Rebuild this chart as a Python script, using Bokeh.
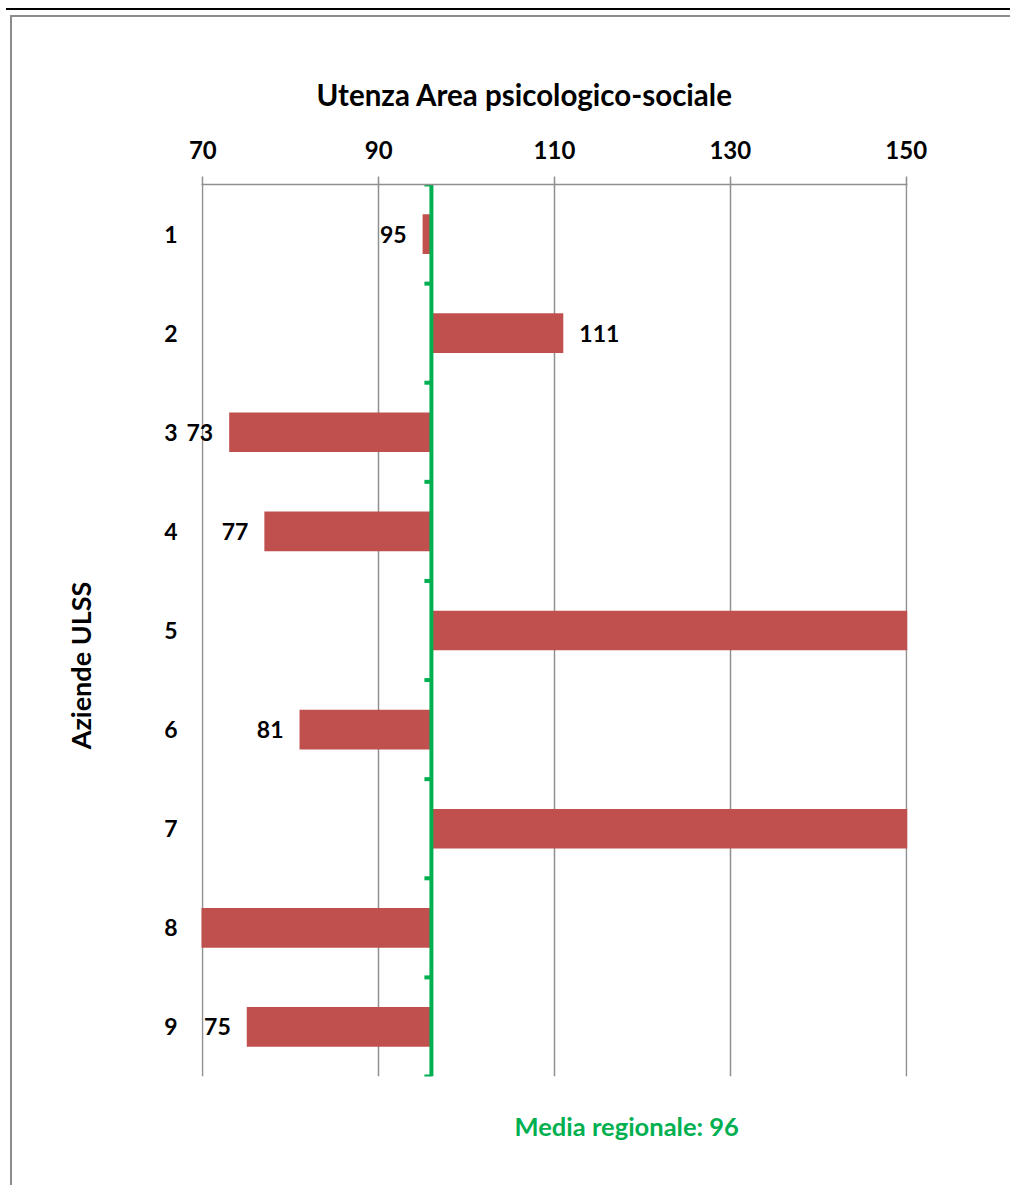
import math
from bokeh.plotting import figure
from bokeh.models import Range1d, FixedTicker, ColumnDataSource, Title
from bokeh.core.properties import value
from bokeh.embed import file_html
from bokeh.resources import INLINE

# ---- data ----
categories = ["1", "2", "3", "4", "5", "6", "7", "8", "9"]
values = [95, 111, 73, 77, 165, 81, 162, 66, 75]   # 5, 7, 8 fall outside the axis (clipped)
media = 96
x_ticks = [70, 90, 110, 130, 150]
x_min, x_max = 70, 150
y_title = "Aziende ULSS"

FONT = "Lato"
BAR = "#c0504d"
GREEN = "#00b050"
GRID = "#8f8f8f"

pos = [i + 1 for i in range(len(categories))]
bounds = [i + 0.5 for i in range(len(categories) + 1)]
pad = 0.15  # tiny padding so that the edge gridlines stay visible

p = figure(width=1010, height=1185, output_backend="svg", toolbar_location=None,
           x_range=Range1d(x_min - pad, x_max + pad),
           y_range=Range1d(len(categories) + 0.5, 0.5),
           x_axis_location="above",
           min_border_left=201, min_border_right=103, min_border_top=184, min_border_bottom=109)
p.outline_line_color = None
p.background_fill_color = "white"
p.border_fill_color = None
p.styles = {
    "background": ("linear-gradient(#000,#000) 6px 8px / 100% 2px no-repeat, "
                   "linear-gradient(#8c8c8c,#8c8c8c) 10px 15px / 100% 2px no-repeat, "
                   "linear-gradient(#8c8c8c,#8c8c8c) 10px 15px / 2px 100% no-repeat, white")
}

# title
p.title.text = "Utenza Area psicologico-sociale"
p.title.align = "left"
p.title.offset = 115
p.title.text_font = FONT
p.title.text_font_size = "29.5px"
p.title.text_font_style = "bold"
p.title.text_color = "black"
p.title.standoff = 52

# x axis (top)
xa = p.xaxis[0]
xa.ticker = FixedTicker(ticks=x_ticks)
xa.axis_line_color = GRID
xa.axis_line_width = 1.5
xa.major_tick_line_color = GRID
xa.major_tick_line_width = 1.5
xa.major_tick_out = 8
xa.major_tick_in = 0
xa.minor_tick_line_color = None
xa.major_label_text_font = FONT
xa.major_label_text_font_size = "24px"
xa.major_label_text_font_style = "bold"
xa.major_label_text_color = "black"
xa.major_label_standoff = 18

# y axis (left)
ya = p.yaxis[0]
ya.ticker = FixedTicker(ticks=pos)
ya.major_label_overrides = {float(k): c for k, c in zip(pos, categories)}
ya.axis_line_color = None
ya.major_tick_line_color = None
ya.minor_tick_line_color = None
ya.major_label_standoff = 18
ya.major_label_text_font = FONT
ya.major_label_text_font_size = "23px"
ya.major_label_text_font_style = "bold"
ya.major_label_text_color = "black"

p.xgrid.ticker = FixedTicker(ticks=x_ticks)
p.xgrid.grid_line_color = GRID
p.xgrid.grid_line_width = 1.5
p.ygrid.grid_line_color = None

# bars from the regional mean
src = ColumnDataSource(dict(y=pos, left=[media] * len(values), right=values))
p.hbar(y="y", left="left", right="right", height=0.4, source=src,
       fill_color=BAR, line_color=None)

# regional mean line with category ticks
p.segment(x0=[media], x1=[media], y0=[bounds[0]], y1=[bounds[-1]],
          line_color=GREEN, line_width=4)
p.ray(x=[media] * len(bounds), y=bounds, length=7, length_units="screen",
      angle=math.pi, line_color=GREEN, line_width=4)

# data labels (only those inside the visible axis)
lo = [(pp, v) for pp, v in zip(pos, values) if x_min <= v <= x_max and v < media]
hi = [(pp, v) for pp, v in zip(pos, values) if x_min <= v <= x_max and v >= media]
for items, align, off in ((lo, "right", -16), (hi, "left", 16)):
    if not items:
        continue
    s = ColumnDataSource(dict(y=[a for a, _ in items], x=[b for _, b in items],
                              t=[str(b) for _, b in items]))
    p.text(x="x", y="y", text="t", source=s, text_align=align, text_baseline="middle",
           x_offset=off, text_font=value(FONT), text_font_size="23px",
           text_font_style="bold", text_color="black", level="overlay")

# vertical axis title (placed outside the frame, rotated)
p.text(x=[x_min], y=[(len(categories) + 1) / 2], text=[y_title], angle=math.pi / 2,
       x_offset=-122, y_offset=35, text_align="center", text_baseline="middle",
       text_font=value(FONT), text_font_size="27px", text_font_style="bold",
       text_color="black", level="overlay")

# bottom note
note = Title(text=f"Media regionale: {media}", align="left", offset=313,
             text_font=FONT, text_font_size="25.5px", text_font_style="bold",
             text_color=GREEN, standoff=65)
p.add_layout(note, "below")

open("out.html", "w").write(file_html(p, INLINE))
